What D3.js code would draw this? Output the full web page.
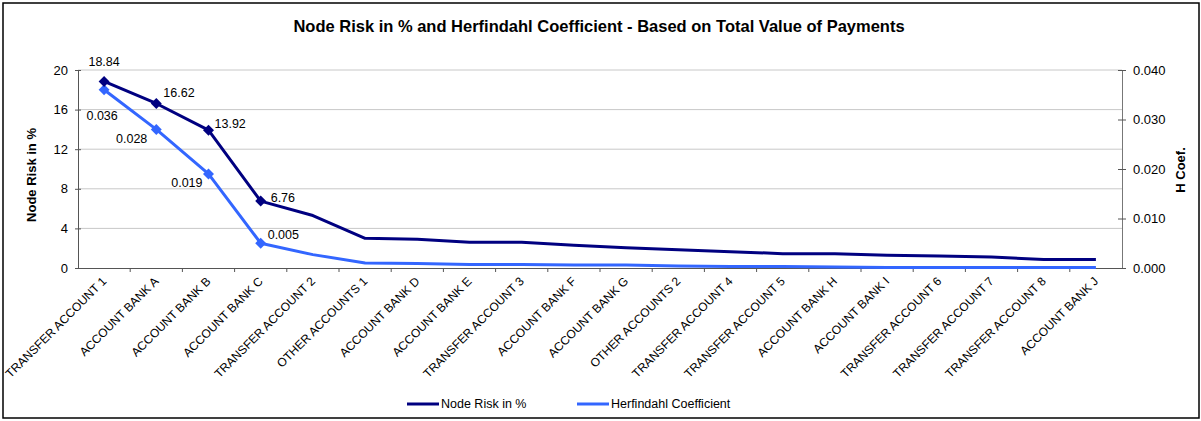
<!DOCTYPE html>
<html>
<head>
<meta charset="utf-8">
<script src="https://cdn.jsdelivr.net/npm/d3@7"></script>
<style>
  html, body { margin: 0; padding: 0; background: #fff; }
  svg { display: block; font-family: "Liberation Sans", Arial, sans-serif; }
</style>
</head>
<body>
<svg id="chart" width="1201" height="421"></svg>
<script>
// ---- data ----
const categories = [
  "TRANSFER ACCOUNT 1", "ACCOUNT BANK A", "ACCOUNT BANK B", "ACCOUNT BANK C",
  "TRANSFER ACCOUNT 2", "OTHER ACCOUNTS 1", "ACCOUNT BANK D", "ACCOUNT BANK E",
  "TRANSFER ACCOUNT 3", "ACCOUNT BANK F", "ACCOUNT BANK G", "OTHER ACCOUNTS 2",
  "TRANSFER ACCOUNT 4", "TRANSFER ACCOUNT 5", "ACCOUNT BANK H", "ACCOUNT BANK I",
  "TRANSFER ACCOUNT 6", "TRANSFER ACCOUNT 7", "TRANSFER ACCOUNT 8", "ACCOUNT BANK J"
];
const nodeRisk = [18.84, 16.62, 13.92, 6.76, 5.3, 3.0, 2.9, 2.6, 2.6, 2.3,
                  2.05, 1.85, 1.65, 1.45, 1.45, 1.3, 1.2, 1.1, 0.87, 0.87];
const hCoef = [0.036, 0.028, 0.019, 0.005, 0.0027, 0.0010, 0.0009, 0.0007, 0.0007, 0.0006,
               0.0006, 0.0004, 0.0003, 0.0003, 0.0002, 0.0001, 0.0001, 0.0001, 0.0001, 0.0001];
const leftTicks = [0, 4, 8, 12, 16, 20];
const rightTicks = [0, 0.01, 0.02, 0.03, 0.04];
const labeledCount = 4;
const titleText = "Node Risk in % and Herfindahl Coefficient - Based on Total Value of Payments";
const seriesNames = ["Node Risk in %", "Herfindahl Coefficient"];

// ---- style ----
const darkColor = "#000080", lightColor = "#3366ff";
const M = { left: 78, right: 1122, top: 70, bottom: 268 };
// label placement (offsets in px from the point)
const nodeLabelPos = [{dx: 0, dy: -20, a: "middle"}, {dx: 7, dy: -11, a: "start"},
                      {dx: 6, dy: -7, a: "start"}, {dx: 10, dy: -3, a: "start"}];
const hLabelPos = [{dx: -2, dy: 26, a: "middle"}, {dx: -9, dy: 9, a: "end"},
                   {dx: -6, dy: 9, a: "end"}, {dx: 7, dy: -9, a: "start"}];

const svg = d3.select("#chart");
svg.append("rect").attr("x", 0).attr("y", 0).attr("width", 1201).attr("height", 421).attr("fill", "#fff");
svg.append("rect").attr("x", 3).attr("y", 3).attr("width", 1196).attr("height", 415)
  .attr("fill", "none").attr("stroke", "#000").attr("stroke-width", 1.5);

const x = d3.scaleBand().domain(categories).range([M.left, M.right]);
const cx = d => x(d) + x.bandwidth() / 2;
const yL = d3.scaleLinear().domain([0, 20]).range([M.bottom, M.top]);
const yR = d3.scaleLinear().domain([0, 0.04]).range([M.bottom, M.top]);

// gridlines
svg.append("g").selectAll("line").data(leftTicks.filter(t => t > 0)).join("line")
  .attr("x1", M.left).attr("x2", M.right)
  .attr("y1", d => yL(d)).attr("y2", d => yL(d))
  .attr("stroke", "#c8c8c8").attr("stroke-width", 1);

// left axis
const gL = svg.append("g").attr("transform", `translate(${M.left},0)`)
  .call(d3.axisLeft(yL).tickValues(leftTicks).tickSize(3).tickPadding(7).tickFormat(d3.format("d")));
gL.select(".domain").attr("stroke", "#555");
gL.selectAll(".tick line").attr("stroke", "#555").attr("x2", -3).attr("x1", 3);
gL.selectAll(".tick text").attr("font-size", 13).attr("fill", "#000")
  .attr("font-family", "Liberation Sans, Arial, sans-serif");

// right axis
const gR = svg.append("g").attr("transform", `translate(${M.right},0)`)
  .call(d3.axisRight(yR).tickValues(rightTicks).tickSize(4).tickPadding(7).tickFormat(d3.format(".3f")));
gR.select(".domain").attr("stroke", "#777");
gR.selectAll(".tick line").attr("stroke", "#555").attr("x1", -4).attr("x2", 4);
gR.selectAll(".tick text").attr("font-size", 13).attr("fill", "#000")
  .attr("font-family", "Liberation Sans, Arial, sans-serif");

// bottom axis
const gB = svg.append("g").attr("transform", `translate(0,${M.bottom})`)
  .call(d3.axisBottom(x).tickSize(0).tickFormat(""));
gB.select(".domain").attr("stroke", "#555");
gB.selectAll(".tick").remove();
gB.selectAll("line.bt").data(categories.slice(1)).join("line").attr("class", "bt")
  .attr("x1", d => x(d)).attr("x2", d => x(d)).attr("y1", 0).attr("y2", 4)
  .attr("stroke", "#555");

svg.append("g").selectAll("text").data(categories).join("text")
  .attr("transform", d => `translate(${cx(d) + 3},${M.bottom + 14}) rotate(-45)`)
  .attr("text-anchor", "end").attr("font-size", 12).attr("fill", "#000")
  .text(d => d);

// lines
const lineL = d3.line().x((d, i) => cx(categories[i])).y(d => yL(d));
const lineR = d3.line().x((d, i) => cx(categories[i])).y(d => yR(d));
svg.append("path").datum(hCoef).attr("d", lineR).attr("fill", "none")
  .attr("stroke", lightColor).attr("stroke-width", 3).attr("stroke-linejoin", "round");
svg.append("path").datum(nodeRisk).attr("d", lineL).attr("fill", "none")
  .attr("stroke", darkColor).attr("stroke-width", 3).attr("stroke-linejoin", "round");

// markers
const diamond = d3.symbol().type(d3.symbolSquare).size(60);
svg.append("g").selectAll("path").data(hCoef.slice(0, labeledCount)).join("path")
  .attr("d", diamond)
  .attr("transform", (d, i) => `translate(${cx(categories[i])},${yR(d)}) rotate(45)`)
  .attr("fill", lightColor);
svg.append("g").selectAll("path").data(nodeRisk.slice(0, labeledCount)).join("path")
  .attr("d", diamond)
  .attr("transform", (d, i) => `translate(${cx(categories[i])},${yL(d)}) rotate(45)`)
  .attr("fill", darkColor);

// data labels
svg.append("g").selectAll("text").data(nodeRisk.slice(0, labeledCount)).join("text")
  .attr("x", (d, i) => cx(categories[i]) + nodeLabelPos[i].dx)
  .attr("y", (d, i) => yL(d) + nodeLabelPos[i].dy)
  .attr("dy", "0.35em").attr("text-anchor", (d, i) => nodeLabelPos[i].a)
  .attr("font-size", 12.5).attr("fill", "#000").text(d => d3.format(".2f")(d));
svg.append("g").selectAll("text").data(hCoef.slice(0, labeledCount)).join("text")
  .attr("x", (d, i) => cx(categories[i]) + hLabelPos[i].dx)
  .attr("y", (d, i) => yR(d) + hLabelPos[i].dy)
  .attr("dy", "0.35em").attr("text-anchor", (d, i) => hLabelPos[i].a)
  .attr("font-size", 12.5).attr("fill", "#000").text(d => d3.format(".3f")(d));

// titles
svg.append("text").attr("x", 599).attr("y", 26).attr("dy", "0.35em")
  .attr("text-anchor", "middle").attr("font-size", 16.5).attr("font-weight", "bold")
  .text(titleText);
svg.append("text").attr("transform", "translate(31,175) rotate(-90)").attr("dy", "0.35em")
  .attr("text-anchor", "middle").attr("font-size", 13).attr("font-weight", "bold")
  .text("Node Risk in %");
svg.append("text").attr("transform", "translate(1180,170) rotate(-90)").attr("dy", "0.35em")
  .attr("text-anchor", "middle").attr("font-size", 13).attr("font-weight", "bold")
  .text("H Coef.");

// legend
const legendX = [407, 577];
const legend = svg.append("g").selectAll("g").data(seriesNames).join("g")
  .attr("transform", (d, i) => `translate(${legendX[i]},404)`);
legend.append("line").attr("x1", 0).attr("x2", 32).attr("y1", 0).attr("y2", 0)
  .attr("stroke", (d, i) => i === 0 ? darkColor : lightColor).attr("stroke-width", 3);
legend.append("text").attr("x", 34).attr("dy", "0.35em").attr("font-size", 12.5)
  .text(d => d);
</script>
</body>
</html>
